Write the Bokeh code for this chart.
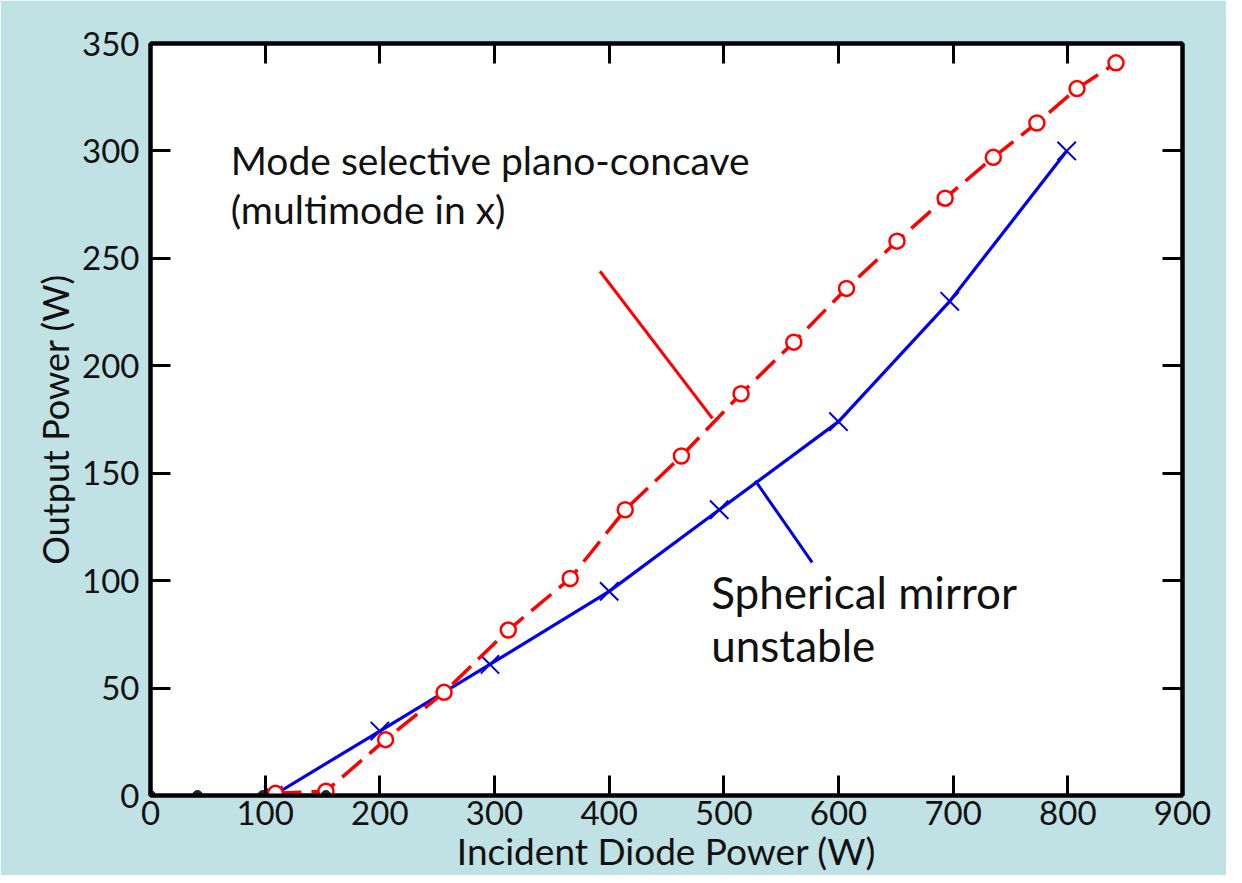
from bokeh.plotting import figure
from bokeh.models import FixedTicker, LinearAxis, CustomJSTickFormatter, Range1d
from bokeh.core.properties import value
from bokeh.embed import file_html
from bokeh.resources import INLINE

# ---- data ----
red_x = [109, 153, 205, 256, 312, 366, 414, 463, 515, 561, 607, 651, 693, 735, 773, 808, 842]
red_y = [1, 2, 26, 48, 77, 101, 133, 158, 187, 211, 236, 258, 278, 297, 313, 329, 341]

blue_x = [107, 200, 296, 400, 496, 600, 697, 799]
blue_y = [0, 30, 61, 95, 133, 174, 230, 300]

zero_x = [0, 41, 98, 153]
zero_y = [0, 0, 0, 0]

x_ticks = [0, 100, 200, 300, 400, 500, 600, 700, 800, 900]
y_ticks = [0, 50, 100, 150, 200, 250, 300, 350]

red_pointer_x = [392, 490]
red_pointer_y = [244, 175.5]
blue_pointer_x = [527.5, 577]
blue_pointer_y = [146.5, 108.5]

label_red = ["Mode selective plano-concave", "(multimode in x)"]
label_red_x = [70, 70]
label_red_y = [296, 273]
label_blue = ["Spherical  mirror", "unstable"]
label_blue_x = [489, 489]
label_blue_y = [94.8, 70]

FONT = "Lato"
BG = "#c0e2e4"

p = figure(width=1226, height=867, frame_width=1032, frame_height=752,
           x_range=Range1d(0, 900), y_range=Range1d(0, 350),
           output_backend="svg", toolbar_location=None,
           min_border_left=150, min_border_right=44, min_border_top=43, min_border_bottom=72,
           x_axis_label="Incident Diode Power (W)", y_axis_label="Output Power (W)")

p.border_fill_color = BG
p.background_fill_color = "white"
p.outline_line_color = "black"
p.outline_line_width = 4
p.grid.visible = False

def style_axis(ax, ticks, show_labels=True, lab_size="36px", tick_standoff=9, lab_standoff=6):
    ax.ticker = FixedTicker(ticks=ticks)
    ax.axis_line_width = 4
    ax.axis_line_color = "black"
    ax.major_tick_in = 20
    ax.major_tick_out = 0
    ax.major_tick_line_width = 3
    ax.major_tick_line_color = "black"
    ax.minor_tick_line_color = None
    ax.major_label_text_font = FONT
    ax.major_label_text_color = "#111111"
    if show_labels:
        ax.major_label_text_font_size = "33px"
        ax.major_label_standoff = tick_standoff
        ax.axis_label_text_font = FONT
        ax.axis_label_text_font_size = lab_size
        ax.axis_label_text_font_style = "normal"
        ax.axis_label_text_color = "#111111"
        ax.axis_label_standoff = lab_standoff
    else:
        ax.formatter = CustomJSTickFormatter(code="return ''")
        ax.major_label_text_font_size = "1px"
        ax.major_label_standoff = 0

style_axis(p.xaxis[0], x_ticks, lab_size="37px", tick_standoff=5, lab_standoff=0)
style_axis(p.yaxis[0], y_ticks, lab_size="36px", tick_standoff=11, lab_standoff=2)

top_ax = LinearAxis()
style_axis(top_ax, x_ticks, show_labels=False)
p.add_layout(top_ax, "above")
right_ax = LinearAxis()
style_axis(right_ax, y_ticks, show_labels=False)
p.add_layout(right_ax, "right")

# pointer lines
p.line(red_pointer_x, red_pointer_y, line_color="red", line_width=3)
p.line(blue_pointer_x, blue_pointer_y, line_color="#0000dd", line_width=3)

# blue series
p.line(blue_x, blue_y, line_color="#0000ee", line_width=3.2)
p.scatter(blue_x, blue_y, marker="x", size=26, line_color="#0000dd", line_width=2)

# red series
p.line(red_x, red_y, line_color="red", line_width=3.5, line_dash="26 10")
p.scatter(red_x, red_y, marker="circle", size=15, fill_color="white",
          line_color="red", line_width=2.5)

# points at zero on the axis
p.scatter(zero_x, zero_y, marker="circle", size=10, fill_color="#222233",
          line_color="#222233")

# annotations
p.text(label_red_x, label_red_y, text=label_red, text_font=value(FONT),
       text_font_size="39px", text_color="#111111", text_baseline="alphabetic",
       text_align="left")
p.text(label_blue_x, label_blue_y, text=label_blue, text_font=value(FONT),
       text_font_size="44px", text_color="#111111", text_baseline="alphabetic",
       text_align="left")

html = file_html(p, INLINE)
html = html.replace("<body>", '<body style="background:%s;">' % BG, 1)
open("out.html", "w").write(html)
